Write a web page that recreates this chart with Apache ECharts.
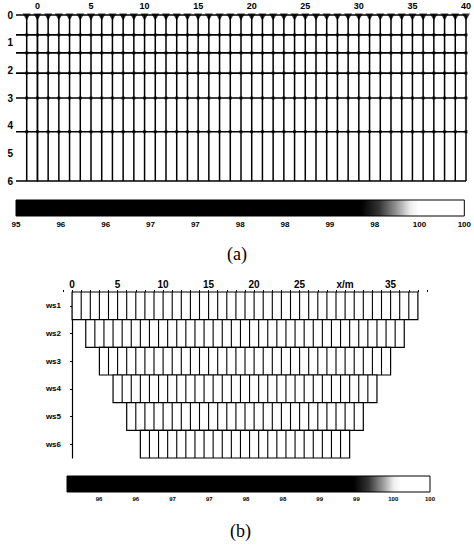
<!DOCTYPE html>
<html><head><meta charset="utf-8">
<script src="https://cdn.jsdelivr.net/npm/echarts/dist/echarts.min.js"></script>
<style>html,body{margin:0;padding:0;background:#fff}#c{width:474px;height:558px}</style>
</head><body><div id="c"></div>
<script>
// ---------- data ----------
// (a) electrode positions along the line (m)
var aElectrodes = [-1,0,1,2,3,4,5,6,7,8,9,10,11,12,13,14,15,16,17,18,19,20,21,22,23,24,25,26,27,28,29,30,31,32,33,34,35,36,37,38,39,40];
// (a) horizontal level lines (depth)
var aLevels = [0, 0.72, 1.37, 2.10, 3.00, 4.22, 6];
// (a) inner levels carrying the small data dots
var aDotLevels = [0.72, 1.37, 2.10, 3.00, 4.22];
// (a) colour bar tick labels
var cbATicks = ['95','96','96','97','97','98','98','99','98','100','100'];
// (b) rows of the pseudo-section
var bRowNames = ['ws1','ws2','ws3','ws4','ws5','ws6'];
var bRowStart = [0, 1.5, 3, 4.5, 6, 7.5];
var bRowEnd   = [38, 36.5, 35, 33.5, 32, 30.5];
// (b) colour bar tick labels
var cbBTicks = ['96','96','97','97','98','98','99','99','100','100'];

var BOLD = 'Liberation Sans';
var chart = echarts.init(document.getElementById('c'), null, {renderer: 'svg'});

function vline(params, api) {
  var x = api.value(0);
  var p0 = api.coord([x, 0]), p1 = api.coord([x, 6]);
  return {type: 'line', shape: {x1: p0[0], y1: p0[1], x2: p1[0], y2: p1[1]},
          style: {stroke: '#000', lineWidth: 1.5}};
}
function hline(params, api) {
  var d = api.value(0);
  var p0 = api.coord([-2, d]), p1 = api.coord([40, d]);
  return {type: 'line', shape: {x1: p0[0], y1: p0[1], x2: p1[0], y2: p1[1]},
          style: {stroke: '#000', lineWidth: 1.6}};
}
function barRect(stops) {
  return function (params, api) {
    var cs = params.coordSys;
    return {type: 'rect', shape: {x: cs.x, y: cs.y, width: cs.width, height: cs.height},
      style: {stroke: '#000', lineWidth: 1,
        fill: {type: 'linear', x: 0, y: 0, x2: 1, y2: 0, colorStops: stops}}};
  };
}
function rowBlocks(params, api) {
  var r = api.value(0), s = api.value(1), e = api.value(2);
  var c0 = api.coord([s, r]), c1 = api.coord([e, r]);
  var h = api.size([0, 1])[1];
  var top = c0[1] - h / 2, bot = c0[1] + h / 2;
  var children = [{type: 'rect', shape: {x: c0[0], y: top, width: c1[0] - c0[0], height: h},
      style: {fill: '#fff', stroke: '#000', lineWidth: 1.2}}];
  for (var x = s + 1; x < e - 0.01; x += 1) {
    var p = api.coord([x, r]);
    children.push({type: 'line', shape: {x1: p[0], y1: top, x2: p[0], y2: bot},
      style: {stroke: '#000', lineWidth: 1.1}});
  }
  return {type: 'group', children: children};
}

var aDots = [];
aElectrodes.forEach(function (x) { aDotLevels.forEach(function (d) { aDots.push([x, d]); }); });

var option = {
  animation: false,
  backgroundColor: '#fff',
  grid: [
    {left: 16, right: 7, top: 15, height: 166},
    {left: 16, right: 7, top: 200, height: 16},
    {left: 63, right: 47, top: 292, height: 166},
    {left: 67, right: 44, top: 476, height: 16},
    {left: 99, right: 44, top: 476, height: 16}
  ],
  xAxis: [
    {gridIndex: 0, type: 'value', min: -2, max: 40, interval: 1, position: 'top',
     axisLine: {show: false}, axisTick: {show: false}, splitLine: {show: false},
     axisLabel: {margin: 5, fontSize: 9, fontWeight: 'bold', color: '#000', fontFamily: BOLD,
       formatter: function (v) { return (v >= 0 && v % 5 === 0) ? String(v) : ''; }}},
    {gridIndex: 1, type: 'category', data: cbATicks, boundaryGap: false,
     axisLine: {show: false}, axisTick: {show: false},
     axisLabel: {interval: 0, margin: 4, fontSize: 8, fontWeight: 'bold', color: '#000', fontFamily: BOLD}},
    {gridIndex: 2, type: 'value', min: -1, max: 39, interval: 1, position: 'top',
     axisLine: {lineStyle: {color: '#000', width: 1.2}},
     axisTick: {show: true, length: 2, lineStyle: {color: '#000'}}, splitLine: {show: false},
     axisLabel: {margin: 3, fontSize: 10, fontWeight: 'bold', color: '#000', fontFamily: BOLD,
       formatter: function (v) { if (v < 0 || v % 5 !== 0) return ''; return v === 30 ? 'x/m' : String(v); }}},
    {gridIndex: 3, type: 'value', min: 0, max: 1, show: false},
    {gridIndex: 4, type: 'category', data: cbBTicks, boundaryGap: false,
     axisLine: {show: false}, axisTick: {show: false},
     axisLabel: {interval: 0, margin: 4, fontSize: 6, fontWeight: 'bold', color: '#000', fontFamily: BOLD}}
  ],
  yAxis: [
    {gridIndex: 0, type: 'value', min: 0, max: 6, interval: 1, inverse: true,
     axisLine: {show: true, lineStyle: {color: '#000', width: 1.4}}, axisTick: {show: false},
     splitLine: {show: false},
     axisLabel: {margin: 3, fontSize: 10, fontWeight: 'bold', color: '#000', fontFamily: BOLD}},
    {gridIndex: 1, type: 'value', min: 0, max: 1, show: false},
    {gridIndex: 2, type: 'category', data: bRowNames, inverse: true,
     axisLine: {show: true, lineStyle: {color: '#000', width: 1.2}},
     axisTick: {show: true, alignWithLabel: true, length: 2, lineStyle: {color: '#000'}},
     axisLabel: {margin: 2, fontSize: 8, fontWeight: 'bold', color: '#000', fontFamily: BOLD}},
    {gridIndex: 3, type: 'value', min: 0, max: 1, show: false},
    {gridIndex: 4, type: 'value', min: 0, max: 1, show: false}
  ],
  series: [
    {type: 'custom', xAxisIndex: 0, yAxisIndex: 0, renderItem: vline,
     data: aElectrodes.map(function (x) { return [x]; }), encode: {x: 0}, clip: false},
    {type: 'custom', xAxisIndex: 0, yAxisIndex: 0, renderItem: hline,
     data: aLevels.map(function (d) { return [d]; }), encode: {y: 0}, clip: false},
    {type: 'scatter', xAxisIndex: 0, yAxisIndex: 0, symbol: 'rect', symbolSize: 3,
     itemStyle: {color: '#000'}, data: aDots, clip: false},
    {type: 'scatter', xAxisIndex: 0, yAxisIndex: 0, symbol: 'triangle', symbolRotate: 180,
     symbolSize: [8, 7], symbolOffset: [0, 2], itemStyle: {color: '#000'}, clip: false,
     data: aElectrodes.map(function (x) { return [x, 0]; })},
    {type: 'custom', xAxisIndex: 1, yAxisIndex: 1, data: [[0, 0]],
     renderItem: barRect([{offset: 0, color: '#000'}, {offset: 0.77, color: '#000'},
       {offset: 0.81, color: '#333'}, {offset: 0.85, color: '#999'}, {offset: 0.88, color: '#eee'},
       {offset: 0.90, color: '#fff'}, {offset: 1, color: '#fff'}])},
    {type: 'custom', xAxisIndex: 2, yAxisIndex: 2, renderItem: rowBlocks, clip: false,
     data: bRowNames.map(function (n, i) { return [i, bRowStart[i], bRowEnd[i]]; }),
     encode: {y: 0, x: [1, 2]}},
    {type: 'custom', xAxisIndex: 3, yAxisIndex: 3, data: [[0, 0]],
     renderItem: barRect([{offset: 0, color: '#000'}, {offset: 0.79, color: '#000'},
       {offset: 0.83, color: '#333'}, {offset: 0.87, color: '#999'}, {offset: 0.90, color: '#eee'},
       {offset: 0.92, color: '#fff'}, {offset: 1, color: '#fff'}])}
  ],
  graphic: [
    {type: 'text', left: 227, top: 245, style: {text: '(a)', fontFamily: 'Liberation Serif', fontSize: 18, fill: '#000'}},
    {type: 'text', left: 230, top: 522, style: {text: '(b)', fontFamily: 'Liberation Serif', fontSize: 18, fill: '#000'}}
  ]
};
chart.setOption(option);
</script>
</body></html>
